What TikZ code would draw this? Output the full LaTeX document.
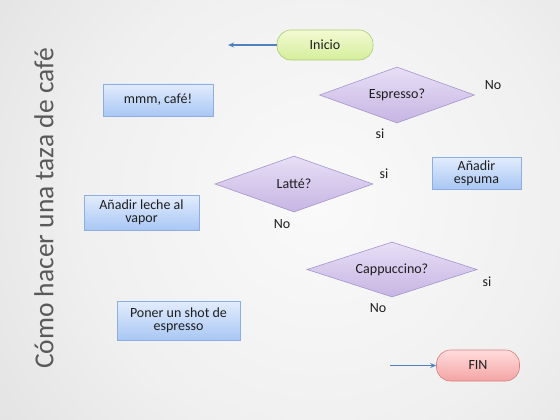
\documentclass[tikz,border=0pt]{standalone}
\usepackage{fontspec}
\setmainfont{Carlito}
\usetikzlibrary{shapes.geometric,arrows.meta}
\definecolor{txt}{HTML}{1E1E1E}
\definecolor{ttl}{HTML}{595959}
\definecolor{boxtop}{HTML}{E2ECFD}
\definecolor{boxbot}{HTML}{A9C7F4}
\definecolor{boxln}{HTML}{8DAEDF}
\definecolor{diatop}{HTML}{E8DFF6}
\definecolor{diabot}{HTML}{C6B5E3}
\definecolor{dialn}{HTML}{A595CC}
\definecolor{grtop}{HTML}{F2FAD2}
\definecolor{grbot}{HTML}{D5EE9C}
\definecolor{grln}{HTML}{A9CB73}
\definecolor{rdtop}{HTML}{FFDCDC}
\definecolor{rdbot}{HTML}{F4A4A4}
\definecolor{rdln}{HTML}{DB7E7E}
\definecolor{arr}{HTML}{4F81BD}
\pgfdeclareradialshading{bgshade}{\pgfpoint{0bp}{0bp}}{color(0bp)=(white!98!black); color(14bp)=(white!94!black); color(34bp)=(white!83!black); color(50bp)=(white!72!black)}
\tikzset{
  every node/.style={text=txt, font=\fontsize{14}{16}\selectfont},
  procbox/.style={draw=boxln, line width=0.6pt, top color=boxtop, bottom color=boxbot, align=center, inner sep=2pt},
  decide/.style={diamond, draw=dialn, line width=0.6pt, top color=diatop, bottom color=diabot, inner sep=0pt, aspect=2.8},
  pillgreen/.style={draw=grln, line width=0.6pt, top color=grtop, bottom color=grbot, rounded corners=14pt, minimum width=96pt, minimum height=30pt},
  pillred/.style={draw=rdln, line width=0.6pt, top color=rdtop, bottom color=rdbot, rounded corners=14pt, minimum width=83pt, minimum height=31pt},
  flow/.style={draw=arr, line width=1.2pt, -{Stealth[length=6pt,width=5pt]}},
  lbl/.style={inner sep=0pt}
}
\begin{document}
\begin{tikzpicture}[x=1pt,y=-1pt]
\useasboundingbox (0,0) rectangle (560,420);
\begin{scope}
\clip (0,0) rectangle (560,420);
\shade[shading=bgshade] (320,200) circle (430);
\end{scope}
% title
\node[rotate=90, text=ttl, font=\fontsize{27.5}{30}\selectfont] (title) at (44,208.5) {Cómo hacer una taza de café};
% terminals
\node[pillgreen] (inicio) at (325,45) {Inicio};
\coordinate (inicioend) at (228,45);
\draw[flow] (inicio.west) -- (inicioend);
\node[pillred] (fin) at (478,365.5) {FIN};
\coordinate (finstart) at (390,365.5);
\draw[flow] (finstart) -- (fin.west);
% decisions
\node[decide, minimum width=155pt, minimum height=56pt] (espresso) at (397,95) {Espresso?};
\node[decide, minimum width=158pt, minimum height=56pt] (latte) at (294,184) {Latté?};
\node[decide, minimum width=170pt, minimum height=55pt] (capp) at (392,269.5) {Cappuccino?};
% process boxes
\node[procbox, minimum width=110pt, minimum height=32pt] (mmm) at (158,100) {mmm, café!};
\node[procbox, minimum width=89pt, minimum height=32pt] (espuma) at (476.5,173) {Añadir\\[-3pt]espuma};
\node[procbox, minimum width=115pt, minimum height=35pt] (leche) at (141.5,212.5) {Añadir leche al\\[-3pt]vapor};
\node[procbox, minimum width=123pt, minimum height=39pt] (shot) at (178.5,320.5) {Poner un shot de\\[-3pt]espresso};
% labels
\node[lbl] (l1) at (493,85) {No};
\node[lbl] (l2) at (380,134) {si};
\node[lbl] (l3) at (384,174) {si};
\node[lbl] (l4) at (282,224) {No};
\node[lbl] (l5) at (487,282) {si};
\node[lbl] (l6) at (378,308) {No};
\end{tikzpicture}
\end{document}
